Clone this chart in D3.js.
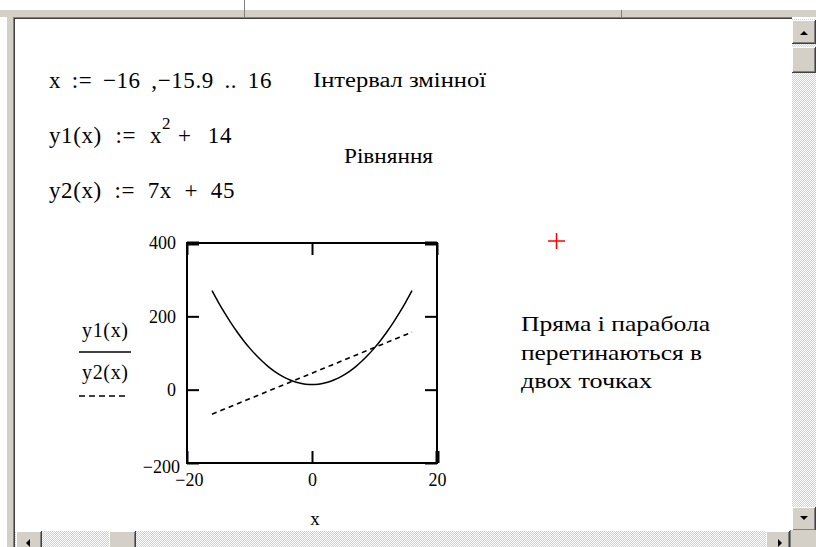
<!DOCTYPE html>
<html>
<head>
<meta charset="utf-8">
<script src="https://cdn.jsdelivr.net/npm/d3@7"></script>
<style>
  html, body { margin: 0; padding: 0; background: #fff; overflow: hidden; }
  svg { display: block; }
  text { font-family: "Liberation Serif", "Times New Roman", serif; fill: #000; }
</style>
</head>
<body>
<svg id="sheet" width="816" height="547"></svg>
<script>
// Range variable x := -16 .. 16 (integer samples) and the two functions
const xValues  = [-16, -15, -14, -13, -12, -11, -10, -9, -8, -7, -6, -5, -4, -3, -2, -1, 0,
                  1, 2, 3, 4, 5, 6, 7, 8, 9, 10, 11, 12, 13, 14, 15, 16];
const y1Values = [270, 239, 210, 183, 158, 135, 114, 95, 78, 63, 50, 39, 30, 23, 18, 15, 14,
                  15, 18, 23, 30, 39, 50, 63, 78, 95, 114, 135, 158, 183, 210, 239, 270];
const y2Values = [-67, -60, -53, -46, -39, -32, -25, -18, -11, -4, 3, 10, 17, 24, 31, 38, 45,
                  52, 59, 66, 73, 80, 87, 94, 101, 108, 115, 122, 129, 136, 143, 150, 157];

// Axis limits and tick labels
const xDomain = [-20, 20];
const yDomain = [-200, 400];
const xTicks  = [-20, 0, 20];
const yTicks  = [-200, 0, 200, 400];

// Worksheet text
const defLines = ["x := \u221216 ,\u221215.9 .. 16", "y1(x) := x", "y2(x) := 7x + 45"];
const defPower = "2";
const defTail = "+ 14";
const noteInterval = "Інтервал змінної";
const noteEquations = "Рівняння";
const noteResult = ["Пряма і парабола", "перетинаються в", "двох точках"];
const legendNames = ["y1(x)", "y2(x)"];
const xTitle = "x";

const svg = d3.select("#sheet");
const face = "#d4d0c8", shadow = "#808080", dark = "#404040";

function rect(g, x, y, w, h, fill) {
  return g.append("rect").attr("x", x).attr("y", y).attr("width", w).attr("height", h).attr("fill", fill);
}
function line(g, x1, y1, x2, y2, stroke, width) {
  return g.append("line").attr("x1", x1).attr("y1", y1).attr("x2", x2).attr("y2", y2)
    .attr("stroke", stroke).attr("stroke-width", width || 1);
}
// widen the gaps between words so a math line spans the given width
function fitWords(sel, width) {
  const gaps = sel.text().split(" ").length - 1;
  const natural = sel.node().getComputedTextLength();
  if (gaps > 0) sel.attr("word-spacing", Math.max(0, (width - natural) / gaps));
  return sel;
}

// ---------- window chrome ----------
const defs = svg.append("defs");
const pat = defs.append("pattern").attr("id", "track").attr("width", 2).attr("height", 2)
  .attr("patternUnits", "userSpaceOnUse");
rect(pat, 0, 0, 2, 2, face);
rect(pat, 0, 0, 1, 1, "#ffffff");
rect(pat, 1, 1, 1, 1, "#ffffff");

const chrome = svg.append("g");
rect(chrome, 0, 10, 816, 7, face);
line(chrome, 7, 17.5, 792, 17.5, shadow, 1);
line(chrome, 7, 18.5, 792, 18.5, dark, 1);
line(chrome, 244.5, 0, 244.5, 17, shadow, 1);
line(chrome, 621.5, 10, 621.5, 17, shadow, 1);
rect(chrome, 7, 10, 6, 537, face);
line(chrome, 13.5, 17, 13.5, 547, shadow, 1);
line(chrome, 14.5, 18, 14.5, 547, dark, 1);

function button(g, x, y, w, h) {
  rect(g, x, y, w, h, face);
  line(g, x + 0.5, y, x + 0.5, y + h, "#ffffff", 1);
  line(g, x, y + 0.5, x + w, y + 0.5, "#ffffff", 1);
  line(g, x + w - 0.5, y, x + w - 0.5, y + h, dark, 1);
  line(g, x, y + h - 0.5, x + w, y + h - 0.5, dark, 1);
  line(g, x + w - 1.5, y + 1, x + w - 1.5, y + h - 1, shadow, 1);
  line(g, x + 1, y + h - 1.5, x + w - 1, y + h - 1.5, shadow, 1);
}
// vertical scrollbar
rect(chrome, 792, 19, 24, 511, "url(#track)");
button(chrome, 792, 20, 24, 24);
chrome.append("path").attr("d", "M800,35 L808,35 L804,31 Z").attr("fill", "#000");
button(chrome, 792, 47, 24, 26);
button(chrome, 792, 507, 24, 24);
chrome.append("path").attr("d", "M800,516 L808,516 L804,520 Z").attr("fill", "#000");
// horizontal scrollbar
rect(chrome, 15, 531, 777, 16, "url(#track)");
button(chrome, 16, 531, 26, 24);
chrome.append("path").attr("d", "M26,543 L30,539 L30,547 Z").attr("fill", "#000");
button(chrome, 109, 531, 27, 24);
button(chrome, 766, 531, 24, 24);
chrome.append("path").attr("d", "M778,539 L778,547 L782,543 Z").attr("fill", "#000");
rect(chrome, 790, 530, 26, 17, face);
line(chrome, 790.5, 530, 790.5, 547, shadow, 1);

// ---------- worksheet text ----------
const ws = svg.append("g");
const mathStyle = s => s.attr("font-size", 23).attr("letter-spacing", 0.6);

fitWords(ws.append("text").attr("x", 49).attr("y", 88).call(mathStyle).text(defLines[0]), 223);
fitWords(ws.append("text").attr("x", 49).attr("y", 143).call(mathStyle).text(defLines[1]), 113);
ws.append("text").attr("x", 162).attr("y", 129).attr("font-size", 17).text(defPower);
fitWords(ws.append("text").attr("x", 178).attr("y", 143).call(mathStyle).text(defTail), 54);
fitWords(ws.append("text").attr("x", 49).attr("y", 198).call(mathStyle).text(defLines[2]), 186);

ws.append("text").attr("x", 313).attr("y", 87).attr("font-size", 20)
  .attr("textLength", 173).attr("lengthAdjust", "spacingAndGlyphs").text(noteInterval);
ws.append("text").attr("x", 344).attr("y", 163).attr("font-size", 20)
  .attr("textLength", 89).attr("lengthAdjust", "spacingAndGlyphs").text(noteEquations);

const resultWidths = [189, 181, 131];
noteResult.forEach((s, i) => {
  ws.append("text").attr("x", 521).attr("y", 331 + i * 28.5).attr("font-size", 21.5)
    .attr("textLength", resultWidths[i]).attr("lengthAdjust", "spacingAndGlyphs").text(s);
});

// red crosshair marker
line(ws, 548, 241, 565, 241, "#ff0000", 1.5);
line(ws, 556.5, 233, 556.5, 249, "#ff0000", 1.5);

// ---------- X-Y plot ----------
const x = d3.scaleLinear().domain(xDomain).range([187, 437]);
const y = d3.scaleLinear().domain(yDomain).range([463, 243]);
const plot = svg.append("g");

plot.append("rect")
  .attr("x", x(xDomain[0])).attr("y", y(yDomain[1]))
  .attr("width", x(xDomain[1]) - x(xDomain[0])).attr("height", y(yDomain[0]) - y(yDomain[1]))
  .attr("fill", "none").attr("stroke", "#000").attr("stroke-width", 2);

function styleAxis(g) {
  g.select(".domain").remove();
  g.selectAll(".tick line").attr("stroke", "#000").attr("stroke-width", 2);
  g.selectAll(".tick text").attr("font-family", "Liberation Serif").attr("font-size", 18).attr("fill", "#000");
}
const fmt = d => d < 0 ? "\u2212" + Math.abs(d) : String(d);

const left = plot.append("g").attr("transform", `translate(${x(xDomain[0])},0)`)
  .call(d3.axisLeft(y).tickValues(yTicks).tickSizeInner(-12).tickSizeOuter(0).tickPadding(11).tickFormat(fmt))
  .call(styleAxis);
left.selectAll(".tick").filter(d => d === yDomain[0]).select("text").attr("dy", "0.55em").attr("x", -7);
left.selectAll(".tick").filter(d => d === yDomain[1]).select("line").attr("stroke-width", 4);

const right = plot.append("g").attr("transform", `translate(${x(xDomain[1])},0)`)
  .call(d3.axisRight(y).tickValues(yTicks).tickSizeInner(-12).tickSizeOuter(0).tickFormat(""))
  .call(styleAxis);
right.selectAll(".tick").filter(d => d === yDomain[1]).select("line").attr("stroke-width", 4);

const bottom = plot.append("g").attr("transform", `translate(0,${y(yDomain[0])})`)
  .call(d3.axisBottom(x).tickValues(xTicks).tickSizeInner(-12).tickSizeOuter(0).tickPadding(10).tickFormat(fmt))
  .call(styleAxis);
bottom.selectAll(".tick").filter(d => d === xDomain[1]).select("line").attr("stroke-width", 4);
bottom.selectAll(".tick").filter(d => d === xDomain[0]).select("text").attr("dx", "0.1em");

plot.append("g").attr("transform", `translate(0,${y(yDomain[1])})`)
  .call(d3.axisTop(x).tickValues(xTicks).tickSizeInner(-12).tickSizeOuter(0).tickFormat(""))
  .call(styleAxis);

// traces
const clipId = "plotClip";
defs.append("clipPath").attr("id", clipId).append("rect")
  .attr("x", x(xDomain[0])).attr("y", y(yDomain[1]))
  .attr("width", x(xDomain[1]) - x(xDomain[0])).attr("height", y(yDomain[0]) - y(yDomain[1]));

const traces = plot.append("g").attr("clip-path", `url(#${clipId})`);
const y1Line = d3.line().x((d, i) => x(xValues[i])).y(d => y(d)).curve(d3.curveNatural);
const y2Line = d3.line().x((d, i) => x(xValues[i])).y(d => y(d));

traces.append("path").datum(y1Values).attr("d", y1Line)
  .attr("fill", "none").attr("stroke", "#000").attr("stroke-width", 1.5);
traces.append("path").datum(y2Values).attr("d", y2Line)
  .attr("fill", "none").attr("stroke", "#000").attr("stroke-width", 1.6)
  .attr("stroke-dasharray", "5,4");

// y-axis legend: trace names with line samples
plot.append("text").attr("x", 82).attr("y", 337).attr("font-size", 20)
  .attr("textLength", 46).attr("lengthAdjust", "spacing").text(legendNames[0]);
line(plot, 79, 352, 131, 352, "#000", 1.5);
plot.append("text").attr("x", 82).attr("y", 379).attr("font-size", 20)
  .attr("textLength", 46).attr("lengthAdjust", "spacing").text(legendNames[1]);
line(plot, 79, 396, 127, 396, "#000", 1.5).attr("stroke-dasharray", "6,4");

// x-axis title
plot.append("text").attr("x", 315).attr("y", 525).attr("font-size", 19)
  .attr("text-anchor", "middle").text(xTitle);
</script>
</body>
</html>
